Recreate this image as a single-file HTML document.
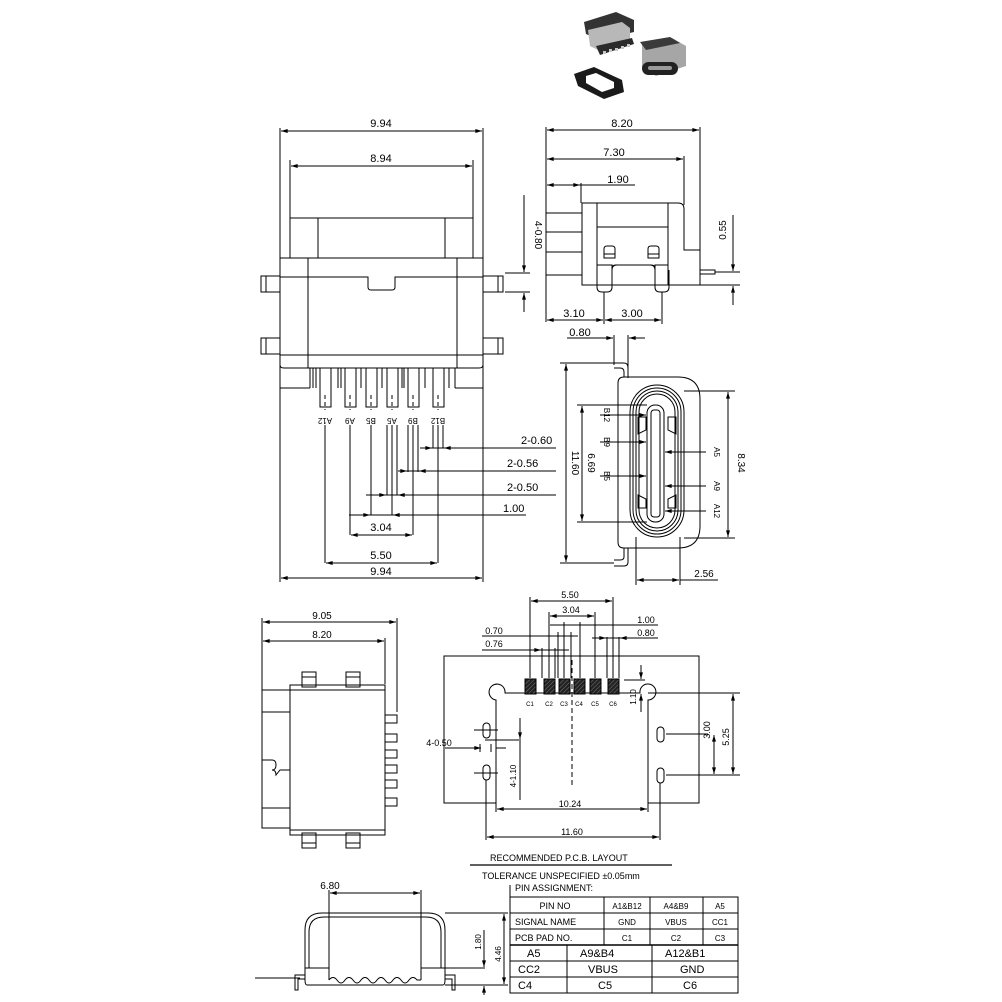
<!DOCTYPE html>
<html><head><meta charset="utf-8"><style>
html,body{margin:0;padding:0;background:#fff}
svg{display:block}
text{font-family:"Liberation Sans",sans-serif;fill:#000}
</style></head><body>
<svg width="1002" height="1002" viewBox="0 0 1002 1002" xmlns="http://www.w3.org/2000/svg">
<defs>
<marker id="a" viewBox="0 0 10 6" refX="10" refY="3" markerWidth="8" markerHeight="4" orient="auto-start-reverse"><path d="M0,0L10,3L0,6z" fill="#000"/></marker>
<pattern id="h" width="3" height="3" patternUnits="userSpaceOnUse" patternTransform="rotate(45)"><rect width="3" height="3" fill="#222"/><line x1="0" y1="0" x2="0" y2="3" stroke="#777" stroke-width="1"/></pattern>
</defs>

<!-- photo -->
<g>
<path d="M584,22 L616,12 L634,20 L634,32 L600,40 L586,34z" fill="#333"/>
<path d="M588,30 L622,22 L630,28 L630,42 L598,50 L590,46z" fill="#b8b8b8"/>
<path d="M596,46 L632,38 L634,44 L600,55z" fill="#2a2a2a"/>
<g fill="#c8c8c8"><rect x="603" y="51" width="3" height="3"/><rect x="609" y="49" width="3" height="3"/><rect x="615" y="48" width="3" height="3"/><rect x="621" y="46" width="3" height="3"/><rect x="627" y="44" width="3" height="3"/></g>
<path d="M642,42 L672,38 L686,46 L686,66 L656,76 L642,68z" fill="#a6a6a6"/>
<path d="M640,42 L670,37 L680,43 L646,50z" fill="#3a3a3a"/>
<rect x="642" y="62" width="36" height="13" rx="6.5" fill="#222"/>
<rect x="648" y="66" width="24" height="4" rx="2" fill="#999"/>
<path d="M574,74 L594,67 L622,80 L624,92 L604,99 L578,86z" fill="#1a1a1a"/>
<path d="M586,76 L596,73 L614,82 L614,88 L602,92 L586,83z" fill="#fff"/>
</g>

<g stroke="#000" stroke-width="1" fill="none">
<!-- ===== Top-left view ===== -->
<line x1="280" y1="128" x2="280" y2="582"/><line x1="483" y1="128" x2="483" y2="582"/>
<line x1="281" y1="131" x2="482" y2="131" marker-start="url(#a)" marker-end="url(#a)"/>
<line x1="290" y1="160" x2="290" y2="218"/><line x1="473" y1="160" x2="473" y2="218"/>
<line x1="291" y1="166" x2="472" y2="166" marker-start="url(#a)" marker-end="url(#a)"/>
<rect x="290" y="218" width="183" height="40"/>
<line x1="318" y1="218" x2="318" y2="258"/><line x1="445" y1="218" x2="445" y2="258"/>
<rect x="280" y="258" width="203" height="97"/>
<path d="M280,277 L368,277 L368,287 Q368,290 371,290 L392,290 Q395,290 395,287 L395,277 L483,277"/>
<line x1="308" y1="258" x2="308" y2="368"/><line x1="457" y1="258" x2="457" y2="368"/>
<rect x="261" y="276" width="19" height="16"/><rect x="261" y="338" width="19" height="16"/>
<rect x="483" y="276" width="20" height="16"/><rect x="483" y="338" width="20" height="16"/>
<line x1="266" y1="276" x2="266" y2="292"/><line x1="266" y1="338" x2="266" y2="354"/>
<line x1="498" y1="276" x2="498" y2="292"/><line x1="498" y1="338" x2="498" y2="354"/>
<path d="M280,355 L280,365 Q280,368 284,368 L479,368 Q483,368 483,365 L483,355"/>
<line x1="280" y1="388" x2="310" y2="388"/><line x1="455" y1="388" x2="483" y2="388"/>
<line x1="310" y1="368" x2="310" y2="388"/><line x1="455" y1="368" x2="455" y2="388"/>
<g>
<rect x="320" y="368" width="11" height="39"/><rect x="345" y="368" width="11" height="39"/>
<rect x="366" y="368" width="11" height="39"/><rect x="387" y="368" width="11" height="39"/>
<rect x="408" y="368" width="11" height="39"/><rect x="433" y="368" width="11" height="39"/>
<line x1="313" y1="368" x2="313" y2="388"/><line x1="316" y1="368" x2="316" y2="388"/>
<line x1="338" y1="368" x2="338" y2="388"/><line x1="341" y1="368" x2="341" y2="388"/>
<line x1="361" y1="368" x2="361" y2="388"/><line x1="382" y1="368" x2="382" y2="388"/>
<line x1="402" y1="368" x2="402" y2="388"/><line x1="404" y1="368" x2="404" y2="388"/>
<line x1="425" y1="368" x2="425" y2="388"/><line x1="449" y1="368" x2="449" y2="388"/>
</g>
<g stroke-dasharray="4,3">
<line x1="325" y1="395" x2="325" y2="410"/><line x1="350" y1="395" x2="350" y2="410"/>
<line x1="371" y1="395" x2="371" y2="410"/><line x1="392" y1="395" x2="392" y2="410"/>
<line x1="413" y1="395" x2="413" y2="410"/><line x1="438" y1="395" x2="438" y2="410"/>
</g>
<line x1="325" y1="425" x2="325" y2="563"/><line x1="350" y1="425" x2="350" y2="535"/>
<line x1="371" y1="425" x2="371" y2="515"/><line x1="387" y1="425" x2="387" y2="495"/>
<line x1="397" y1="425" x2="397" y2="495"/><line x1="392" y1="425" x2="392" y2="515"/>
<line x1="408" y1="425" x2="408" y2="472"/><line x1="418" y1="425" x2="418" y2="472"/>
<line x1="413" y1="425" x2="413" y2="535"/><line x1="433" y1="425" x2="433" y2="448"/>
<line x1="443" y1="425" x2="443" y2="448"/><line x1="438" y1="425" x2="438" y2="563"/>
<line x1="423" y1="448" x2="556" y2="448"/>
<line x1="420" y1="448" x2="432" y2="448" marker-end="url(#a)"/><line x1="456" y1="448" x2="444" y2="448" marker-end="url(#a)"/>
<line x1="405" y1="471" x2="556" y2="471"/>
<line x1="398" y1="471" x2="407" y2="471" marker-end="url(#a)"/><line x1="430" y1="471" x2="419" y2="471" marker-end="url(#a)"/>
<line x1="366" y1="495" x2="556" y2="495"/>
<line x1="375" y1="495" x2="386" y2="495" marker-end="url(#a)"/><line x1="408" y1="495" x2="398" y2="495" marker-end="url(#a)"/>
<line x1="349" y1="515" x2="526" y2="515"/>
<line x1="358" y1="515" x2="370" y2="515" marker-end="url(#a)"/><line x1="404" y1="515" x2="393" y2="515" marker-end="url(#a)"/>
<line x1="351" y1="535" x2="412" y2="535" marker-start="url(#a)" marker-end="url(#a)"/>
<line x1="326" y1="563" x2="437" y2="563" marker-start="url(#a)" marker-end="url(#a)"/>
<line x1="281" y1="578" x2="482" y2="578" marker-start="url(#a)" marker-end="url(#a)"/>

<!-- ===== Top-right side view ===== -->
<line x1="546" y1="127" x2="546" y2="322"/>
<line x1="700" y1="127" x2="700" y2="250"/>
<line x1="547" y1="130" x2="699" y2="130" marker-start="url(#a)" marker-end="url(#a)"/>
<line x1="684" y1="156" x2="684" y2="205"/>
<line x1="547" y1="159" x2="683" y2="159" marker-start="url(#a)" marker-end="url(#a)"/>
<line x1="581" y1="183" x2="581" y2="203"/>
<line x1="547" y1="185" x2="580" y2="185" marker-start="url(#a)" marker-end="url(#a)"/>
<line x1="580" y1="185" x2="635" y2="185"/>
<rect x="546" y="213" width="36" height="62"/>
<line x1="546" y1="232" x2="582" y2="232"/><line x1="546" y1="252" x2="582" y2="252"/>
<path d="M582,203 L678,203 Q684,203 684,209 L684,250 L700,250 L700,285 L582,285z"/>
<line x1="597" y1="203" x2="597" y2="285"/><line x1="668" y1="203" x2="668" y2="285"/>
<line x1="597" y1="227" x2="668" y2="227"/>
<rect x="700" y="270" width="15" height="4"/>
<path d="M597,265 L612,265 L612,270 Q612,265 617,265 L650,265 Q655,265 655,270 L655,265 L668,265"/>
<path d="M597,270 L597,287 Q597,292 602,292 L607,292 Q612,292 612,287 L612,268 Q612,265 616,265 L651,265 Q655,265 655,268 L655,287 Q655,292 660,292 L664,292 Q669,292 669,287 L669,270"/>
<path d="M604,258 L604,249 Q604,246 607,246 L612,246 Q615,246 615,249 L615,258z M604,254 L615,254"/>
<path d="M648,258 L648,249 Q648,246 651,246 L656,246 Q659,246 659,249 L659,258z M648,254 L659,254"/>
<line x1="604" y1="292" x2="604" y2="324"/><line x1="662" y1="292" x2="662" y2="324"/>
<line x1="547" y1="320" x2="603" y2="320" marker-start="url(#a)" marker-end="url(#a)"/>
<line x1="605" y1="320" x2="661" y2="320" marker-start="url(#a)" marker-end="url(#a)"/>
<line x1="715" y1="272" x2="740" y2="272"/><line x1="700" y1="285" x2="740" y2="285"/>
<line x1="733" y1="215" x2="733" y2="271" marker-end="url(#a)"/>
<line x1="733" y1="305" x2="733" y2="286" marker-end="url(#a)"/>
<line x1="505" y1="273" x2="530" y2="273"/><line x1="505" y1="292" x2="530" y2="292"/>
<line x1="524" y1="195" x2="524" y2="272" marker-end="url(#a)"/>
<line x1="524" y1="312" x2="524" y2="293" marker-end="url(#a)"/>

<!-- ===== Front view ===== -->
<line x1="614" y1="335" x2="614" y2="365"/><line x1="628" y1="335" x2="628" y2="378"/>
<line x1="607" y1="338" x2="613" y2="338" marker-end="url(#a)"/>
<line x1="645" y1="338" x2="629" y2="338" marker-end="url(#a)"/>
<line x1="567" y1="338" x2="607" y2="338"/>
<path d="M614,363 L624,363 Q628,363 628,368 L628,377"/>
<path d="M614,368 L620,368 Q624,368 624,372 L624,377"/>
<path d="M624,377 L678,377 Q700,377 700,399 L700,526 Q700,548 678,548 L624,548 Q618,548 618,542 L618,383 Q618,377 624,377z"/>
<path d="M628,548 L628,562 Q628,566 624,566 L614,566"/>
<path d="M624,548 L624,557 Q624,560 620,560 L614,560"/>
<rect x="630" y="385" width="54" height="152" rx="27"/>
<rect x="633" y="388" width="48" height="146" rx="24"/>
<rect x="636" y="391" width="42" height="140" rx="21"/>
<rect x="639" y="394" width="36" height="134" rx="18"/>
<rect x="647" y="405" width="17" height="117" rx="8"/>
<rect x="651" y="410" width="9" height="107" rx="3"/>
<path d="M638,417 L646,417 L646,430 L638,434z M638,495 L646,499 L646,508 L638,508z"/>
<path d="M676,417 L668,417 L668,430 L676,434z M676,495 L668,499 L668,508 L676,508z"/>
<line x1="560" y1="363" x2="614" y2="363"/><line x1="560" y1="563" x2="614" y2="563"/>
<line x1="566" y1="364" x2="566" y2="562" marker-start="url(#a)" marker-end="url(#a)"/>
<line x1="577" y1="405" x2="647" y2="405"/><line x1="577" y1="522" x2="647" y2="522"/>
<line x1="582" y1="406" x2="582" y2="521" marker-start="url(#a)" marker-end="url(#a)"/>
<line x1="684" y1="391" x2="735" y2="391"/><line x1="684" y1="538" x2="735" y2="538"/>
<line x1="728" y1="392" x2="728" y2="537" marker-start="url(#a)" marker-end="url(#a)"/>
<line x1="636" y1="537" x2="636" y2="585"/><line x1="680" y1="537" x2="680" y2="585"/>
<line x1="637" y1="580" x2="679" y2="580" marker-start="url(#a)" marker-end="url(#a)"/>
<line x1="680" y1="580" x2="718" y2="580"/>
<line x1="600" y1="415" x2="646" y2="415" marker-end="url(#a)"/>
<line x1="600" y1="442" x2="646" y2="442" marker-end="url(#a)"/>
<line x1="600" y1="476" x2="646" y2="476" marker-end="url(#a)"/>
<line x1="706" y1="452" x2="665" y2="452" marker-end="url(#a)"/>
<line x1="706" y1="486" x2="665" y2="486" marker-end="url(#a)"/>
<line x1="706" y1="511" x2="665" y2="511" marker-end="url(#a)"/>

<!-- ===== Bottom-left side view ===== -->
<line x1="262" y1="618" x2="262" y2="690"/><line x1="397" y1="618" x2="397" y2="712"/>
<line x1="263" y1="622" x2="396" y2="622" marker-start="url(#a)" marker-end="url(#a)"/>
<line x1="385" y1="638" x2="385" y2="684"/>
<line x1="263" y1="641" x2="384" y2="641" marker-start="url(#a)" marker-end="url(#a)"/>
<rect x="290" y="685" width="95" height="150"/>
<line x1="290" y1="690" x2="385" y2="690"/><line x1="290" y1="830" x2="385" y2="830"/>
<path d="M290,690 L262,690 L262,828 L290,828"/>
<line x1="262" y1="712" x2="290" y2="712"/><line x1="262" y1="808" x2="290" y2="808"/>
<path d="M262,760 L272,760 Q276,760 276,765 Q276,770 272,770 Q276,770 276,775 L280,770 L290,770"/>
<rect x="302" y="672" width="14" height="15"/><rect x="346" y="672" width="14" height="15"/>
<rect x="302" y="833" width="14" height="15"/><rect x="346" y="833" width="14" height="15"/>
<line x1="302" y1="677" x2="316" y2="677"/><line x1="346" y1="677" x2="360" y2="677"/>
<line x1="302" y1="843" x2="316" y2="843"/><line x1="346" y1="843" x2="360" y2="843"/>
<rect x="385" y="715" width="12" height="8"/><rect x="385" y="734" width="12" height="8"/>
<rect x="385" y="750" width="12" height="8"/><rect x="385" y="765" width="12" height="8"/>
<rect x="385" y="780" width="12" height="8"/><rect x="385" y="798" width="12" height="8"/>

<!-- ===== PCB layout ===== -->
<path d="M444,656 L699,656 L699,803 L648,803 L648,700 A8,8 0 1 0 640,693 L505,693 A8,8 0 1 0 496,700 L496,803 L444,803z"/>
<g fill="url(#h)" stroke="#000">
<rect x="525" y="679" width="11" height="15"/><rect x="544" y="679" width="11" height="15"/>
<rect x="559" y="679" width="11" height="15"/><rect x="574" y="679" width="11" height="15"/>
<rect x="590" y="679" width="11" height="15"/><rect x="608" y="679" width="11" height="15"/>
</g>
<line x1="572" y1="660" x2="572" y2="785" stroke-dasharray="5,3"/>
<rect x="483" y="723" width="7" height="15" rx="3.5"/><rect x="483" y="765" width="7" height="15" rx="3.5"/>
<rect x="657" y="727" width="7" height="15" rx="3.5"/><rect x="657" y="768" width="7" height="15" rx="3.5"/>
<line x1="474" y1="730" x2="498" y2="730"/><line x1="474" y1="773" x2="498" y2="773"/>
<line x1="485" y1="740" x2="521" y2="740"/>
<line x1="496" y1="748" x2="506" y2="748"/><line x1="445" y1="748" x2="481" y2="748" marker-end="url(#a)"/>
<line x1="480" y1="744" x2="480" y2="752"/><line x1="491" y1="744" x2="491" y2="752"/>
<line x1="520" y1="718" x2="520" y2="739" marker-end="url(#a)"/>
<line x1="520" y1="800" x2="520" y2="741" />
<line x1="486" y1="780" x2="486" y2="840"/><line x1="660" y1="783" x2="660" y2="840"/>
<line x1="496" y1="803" x2="496" y2="812"/><line x1="648" y1="803" x2="648" y2="812"/>
<line x1="497" y1="809" x2="647" y2="809" marker-start="url(#a)" marker-end="url(#a)"/>
<line x1="487" y1="837" x2="659" y2="837" marker-start="url(#a)" marker-end="url(#a)"/>
<line x1="648" y1="693" x2="740" y2="693"/><line x1="666" y1="734" x2="708" y2="734"/>
<line x1="666" y1="775" x2="740" y2="775"/>
<line x1="733" y1="694" x2="733" y2="774" marker-start="url(#a)" marker-end="url(#a)"/>
<line x1="714" y1="735" x2="714" y2="774" marker-start="url(#a)" marker-end="url(#a)"/>
<line x1="624" y1="680" x2="645" y2="680"/>
<line x1="641" y1="665" x2="641" y2="679" marker-end="url(#a)"/>
<line x1="641" y1="712" x2="641" y2="694" marker-end="url(#a)"/>
<line x1="530" y1="597" x2="530" y2="678"/><line x1="613" y1="597" x2="613" y2="678"/>
<line x1="531" y1="601" x2="612" y2="601" marker-start="url(#a)" marker-end="url(#a)"/>
<line x1="549" y1="612" x2="549" y2="678"/><line x1="595" y1="612" x2="595" y2="678"/>
<line x1="550" y1="616" x2="594" y2="616" marker-start="url(#a)" marker-end="url(#a)"/>
<line x1="564" y1="622" x2="564" y2="678"/><line x1="580" y1="622" x2="580" y2="678"/>
<line x1="550" y1="625" x2="658" y2="625"/>
<line x1="482" y1="636" x2="578" y2="636"/>
<line x1="558" y1="632" x2="558" y2="678"/><line x1="571" y1="632" x2="571" y2="678"/>
<line x1="542" y1="648" x2="542" y2="678"/><line x1="555" y1="648" x2="555" y2="678"/>
<line x1="482" y1="650" x2="569" y2="650"/>
<line x1="536" y1="650" x2="541" y2="650" marker-end="url(#a)"/>
<line x1="607" y1="637" x2="607" y2="678"/><line x1="619" y1="637" x2="619" y2="678"/>
<line x1="592" y1="638" x2="658" y2="638"/>
<line x1="598" y1="638" x2="606" y2="638" marker-end="url(#a)"/><line x1="628" y1="638" x2="620" y2="638" marker-end="url(#a)"/>

<!-- ===== Bottom view ===== -->
<line x1="255" y1="978" x2="300" y2="978"/>
<path d="M305,975 L305,930 Q305,913 322,913 L428,913 Q445,913 445,930 L445,975"/>
<path d="M309,968 L309,932 Q309,917 324,917 L426,917 Q441,917 441,932 L441,968"/>
<path d="M305,968 L329,968 L329,980 M421,980 L421,968 L445,968"/>
<path d="M307,985 L443,985 M307,985 Q305,985 305,980 L305,975 M443,985 Q445,985 445,980 L445,975"/>
<path d="M329,980 Q333,975 337,980 Q341,986 345,980 Q349,975 353,980 Q357,986 361,980 Q365,975 369,980 Q373,986 377,980 Q381,975 385,980 Q389,986 393,980 Q397,975 401,980 Q405,986 409,980 Q413,975 417,980 L421,980"/>
<path d="M305,975 L295,975 L295,990 L298,990 L298,979 L305,979"/>
<path d="M445,975 L455,975 L455,990 L452,990 L452,979 L445,979"/>
<line x1="329" y1="890" x2="329" y2="968"/><line x1="421" y1="890" x2="421" y2="968"/>
<line x1="330" y1="893" x2="420" y2="893" marker-start="url(#a)" marker-end="url(#a)"/>
<line x1="445" y1="913" x2="508" y2="913"/><line x1="445" y1="968" x2="485" y2="968"/>
<line x1="445" y1="985" x2="508" y2="985"/>
<line x1="484" y1="930" x2="484" y2="967" marker-end="url(#a)"/><line x1="484" y1="995" x2="484" y2="986" marker-end="url(#a)"/>
<line x1="504" y1="914" x2="504" y2="984" marker-start="url(#a)" marker-end="url(#a)"/>

<!-- ===== Table ===== -->
<line x1="470" y1="865" x2="672" y2="865" stroke-width="1.3"/>
<line x1="510" y1="885" x2="510" y2="993"/>
<rect x="510" y="897" width="228" height="96"/>
<line x1="510" y1="913" x2="738" y2="913"/><line x1="510" y1="929" x2="738" y2="929"/>
<line x1="510" y1="945" x2="738" y2="945" stroke-width="1.5"/>
<line x1="510" y1="961" x2="738" y2="961"/><line x1="510" y1="977" x2="738" y2="977"/>
<line x1="604" y1="897" x2="604" y2="945"/><line x1="650" y1="897" x2="650" y2="945"/>
<line x1="703" y1="897" x2="703" y2="945"/>
<line x1="567" y1="945" x2="567" y2="993"/><line x1="652" y1="945" x2="652" y2="993"/>
</g>

<!-- ===== TEXT ===== -->
<g font-size="11" text-anchor="middle">
<text x="381" y="127">9.94</text>
<text x="381" y="162">8.94</text>
<text x="521" y="444" text-anchor="start">2-0.60</text>
<text x="507" y="467" text-anchor="start">2-0.56</text>
<text x="507" y="491" text-anchor="start">2-0.50</text>
<text x="503" y="512" text-anchor="start">1.00</text>
<text x="381" y="531">3.04</text>
<text x="381" y="559">5.50</text>
<text x="381" y="575">9.94</text>
<text x="622" y="127">8.20</text>
<text x="614" y="156">7.30</text>
<text x="618" y="183">1.90</text>
<text x="574" y="317">3.10</text>
<text x="632" y="317">3.00</text>
<text x="580" y="336">0.80</text>
<text x="704" y="577" font-size="10">2.56</text>
<text x="330" y="889" font-size="10">6.80</text>
<text x="322" y="619" font-size="10">9.05</text>
<text x="322" y="638" font-size="10">8.20</text>
<text x="570" y="598" font-size="9">5.50</text>
<text x="571" y="613" font-size="9">3.04</text>
<text x="646" y="623" font-size="9">1.00</text>
<text x="494" y="634" font-size="9">0.70</text>
<text x="646" y="636" font-size="9">0.80</text>
<text x="494" y="647" font-size="9">0.76</text>
<text x="439" y="746" font-size="9">4-0.50</text>
<text x="570" y="807" font-size="9">10.24</text>
<text x="572" y="835" font-size="9">11.60</text>
</g>
<g font-size="10" text-anchor="middle">
<text transform="translate(535,235) rotate(90)">4-0.80</text>
<text transform="translate(726,230) rotate(-90)">0.55</text>
<text transform="translate(572,463) rotate(90)">11.60</text>
<text transform="translate(588,463) rotate(90)">6.69</text>
<text transform="translate(738,463) rotate(90)">8.34</text>
<text transform="translate(710,730) rotate(-90)" font-size="9">3.00</text>
<text transform="translate(729,737) rotate(-90)" font-size="9">5.25</text>
<text transform="translate(636,697) rotate(-90)" font-size="8">1.10</text>
<text transform="translate(516,776) rotate(-90)" font-size="8">4-1.10</text>
<text transform="translate(481,942) rotate(-90)" font-size="8">1.80</text>
<text transform="translate(501,954) rotate(-90)" font-size="8">4.46</text>
</g>
<g font-size="8" text-anchor="middle">
<text transform="translate(325,418) rotate(180)">A12</text>
<text transform="translate(350,418) rotate(180)">A9</text>
<text transform="translate(371,418) rotate(180)">B5</text>
<text transform="translate(392,418) rotate(180)">A5</text>
<text transform="translate(413,418) rotate(180)">B9</text>
<text transform="translate(438,418) rotate(180)">B12</text>
<text transform="translate(604,415) rotate(90)">B12</text>
<text transform="translate(604,442) rotate(90)">B9</text>
<text transform="translate(604,476) rotate(90)">B5</text>
<text transform="translate(714,452) rotate(90)">A5</text>
<text transform="translate(714,486) rotate(90)">A9</text>
<text transform="translate(714,511) rotate(90)">A12</text>
</g>
<g font-size="6" text-anchor="middle">
<text x="530" y="706">C1</text><text x="549" y="706">C2</text><text x="564" y="706">C3</text>
<text x="579" y="706">C4</text><text x="595" y="706">C5</text><text x="613" y="706">C6</text>
</g>
<g font-size="9">
<text x="490" y="861">RECOMMENDED  P.C.B. LAYOUT</text>
<text x="482" y="879">TOLERANCE UNSPECIFIED ±0.05mm</text>
<text x="515" y="891">PIN ASSIGNMENT:</text>
<text x="555" y="909" text-anchor="middle">PIN NO</text>
<text x="515" y="925">SIGNAL NAME</text>
<text x="515" y="941">PCB PAD NO.</text>
<g text-anchor="middle" font-size="8">
<text x="627" y="909">A1&amp;B12</text><text x="676" y="909">A4&amp;B9</text><text x="720" y="909">A5</text>
<text x="627" y="925">GND</text><text x="676" y="925">VBUS</text><text x="720" y="925">CC1</text>
<text x="627" y="941">C1</text><text x="676" y="941">C2</text><text x="720" y="941">C3</text>
</g>
<g font-size="11">
<text x="527" y="957">A5</text><text x="580" y="957">A9&amp;B4</text><text x="665" y="957">A12&amp;B1</text>
<text x="518" y="973">CC2</text><text x="588" y="973">VBUS</text><text x="680" y="973">GND</text>
<text x="518" y="989">C4</text><text x="598" y="989">C5</text><text x="683" y="989">C6</text>
</g>
</g>
</svg>
</body></html>
